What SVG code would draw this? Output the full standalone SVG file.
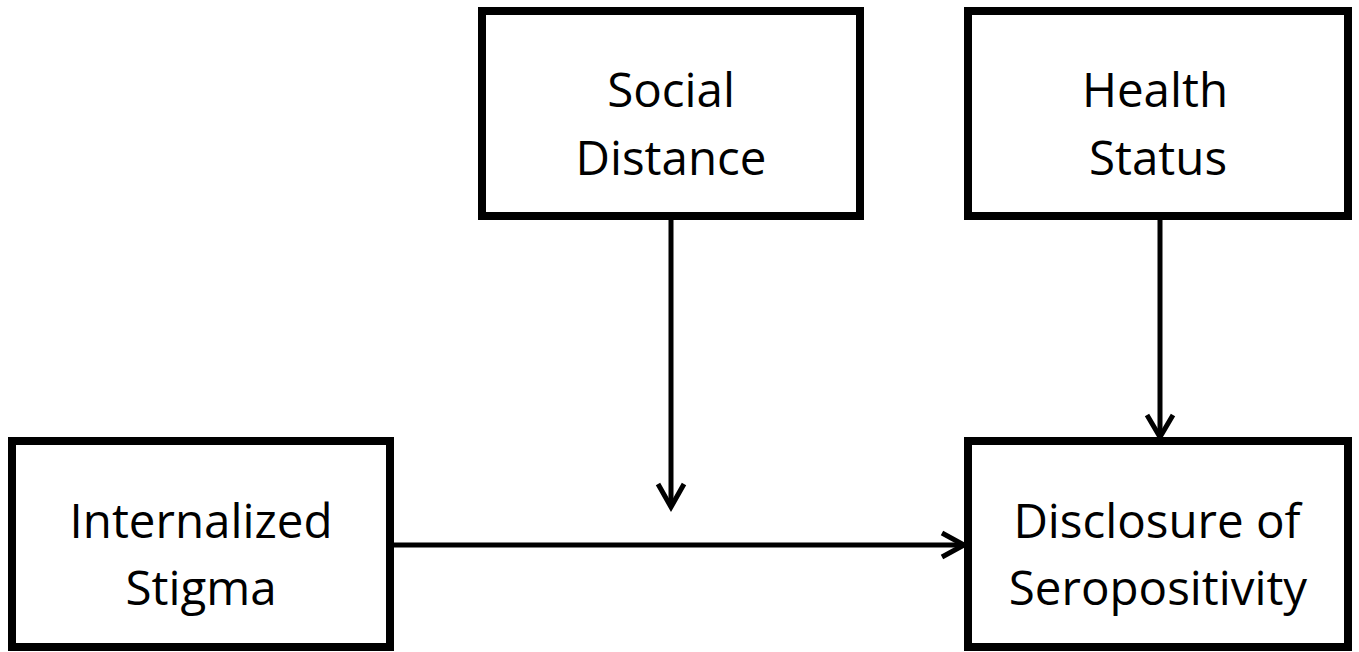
<svg xmlns="http://www.w3.org/2000/svg" width="1359" height="652" viewBox="0 0 1359 652">
<style>
.box{fill:#fff;stroke:#000;stroke-width:8}
.lbl{font-family:"Open Sans","Noto Sans",sans-serif;font-size:47.5px;fill:#000;text-anchor:middle}
.edge{stroke:#000;stroke-width:5;fill:none}
.head{stroke:#000;stroke-width:5;fill:none;stroke-linejoin:miter}
</style>
<rect width="1359" height="652" fill="#fff"/>
<g id="connectors">
<line class="edge" x1="671" y1="216" x2="671" y2="506"/>
<polyline class="head" points="658,484 671,507 684,484"/>
<line class="edge" x1="1160" y1="216" x2="1160" y2="436"/>
<polyline class="head" points="1147,415 1160,437 1173,415"/>
<line class="edge" x1="390" y1="545" x2="963" y2="545"/>
<polyline class="head" points="942,533 964,545 942,557"/>
</g>
<g id="social-distance">
<rect class="box" x="482" y="11" width="378" height="205"/>
<text class="lbl" x="671" y="107">Social</text>
<text class="lbl" x="671" y="175">Distance</text>
</g>
<g id="health-status">
<rect class="box" x="968" y="11" width="380" height="205"/>
<text class="lbl" x="1155" y="107">Health</text>
<text class="lbl" x="1158" y="175">Status</text>
</g>
<g id="internalized-stigma">
<rect class="box" x="12" y="441" width="378" height="206"/>
<text class="lbl" x="201" y="538">Internalized</text>
<text class="lbl" x="201" y="605">Stigma</text>
</g>
<g id="disclosure">
<rect class="box" x="968" y="441" width="380" height="206"/>
<text class="lbl" x="1157" y="538">Disclosure of</text>
<text class="lbl" x="1158" y="605">Seropositivity</text>
</g>
</svg>
